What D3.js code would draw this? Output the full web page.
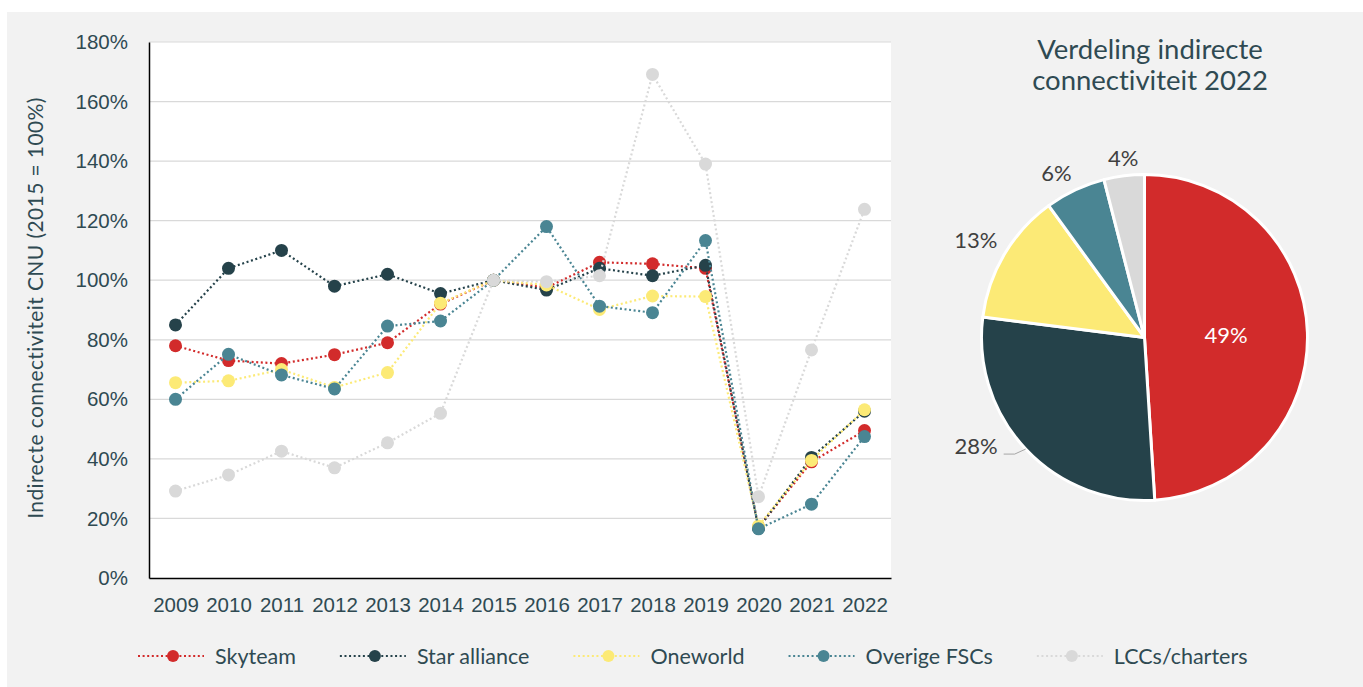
<!DOCTYPE html>
<html>
<head>
<meta charset="utf-8">
<script src="https://cdn.jsdelivr.net/npm/d3@7"></script>
<style>
  body { margin: 0; background: #fff; overflow: hidden; }
  svg { display: block; overflow: visible; font-family: Lato, "Open Sans", sans-serif; font-variant-ligatures: none; }
</style>
</head>
<body>
<div id="chart"></div>
<script>
const width = 1363;
const height = 687;
const margin = {top: 42, right: 472, bottom: 109, left: 149};
const innerWidth = width - margin.left - margin.right;
const innerHeight = height - margin.top - margin.bottom;

// Data
const years = [2009, 2010, 2011, 2012, 2013, 2014, 2015, 2016, 2017, 2018, 2019, 2020, 2021, 2022];
const seriesNames = ["Skyteam", "Star alliance", "Oneworld", "Overige FSCs", "LCCs/charters"];
const colors = ["#d22b2b", "#25424a", "#fcea76", "#4a8593", "#d9d9d9"];
const skyteam = [78, 73, 72, 75, 79, 92, 100, 97.5, 106, 105.5, 104, 17, 39, 49.5];
const starAlliance = [85, 104, 110, 98, 102, 95.5, 100, 96.7, 104, 101.5, 105, 16.7, 40.5, 56];
const oneworld = [65.6, 66.2, 70, 64, 69, 92.3, 100, 98.4, 90.2, 94.7, 94.5, 17.5, 39.5, 56.5];
const overigeFSCs = [60, 75.1, 68.2, 63.5, 84.6, 86.3, 100, 118, 91.3, 89.1, 113.3, 16.5, 24.8, 47.5];
const lccs = [29.2, 34.6, 42.6, 37, 45.4, 55.3, 100, 99.5, 101.5, 169.1, 139, 27.3, 76.6, 123.8];
const seriesValues = [skyteam, starAlliance, oneworld, overigeFSCs, lccs];
const yTicks = [0, 20, 40, 60, 80, 100, 120, 140, 160, 180];

const pieLabels = ["Skyteam", "Star alliance", "Oneworld", "Overige FSCs", "LCCs/charters"];
const pieValues = [49, 28, 13, 6, 4];

const textColor = "#2f4a52";
const labelColor = "#404040";

const svg = d3.select("#chart")
  .append("svg")
    .attr("width", width)
    .attr("height", height);

// Background
svg.append("rect")
  .attr("x", 7).attr("y", 12)
  .attr("width", width - 7).attr("height", height - 12)
  .attr("fill", "#f2f2f2");

const innerChart = svg.append("g")
  .attr("transform", `translate(${margin.left}, ${margin.top})`);

innerChart.append("rect")
  .attr("width", innerWidth)
  .attr("height", innerHeight)
  .attr("fill", "#ffffff");

// Scales
const xScale = d3.scalePoint()
  .domain(years)
  .range([0, innerWidth])
  .padding(0.5);

const yScale = d3.scaleLinear()
  .domain([0, 180])
  .range([innerHeight, 0]);

// Gridlines
innerChart.append("g")
  .selectAll("line")
  .data(yTicks.filter(d => d > 0))
  .join("line")
    .attr("x1", 0)
    .attr("x2", innerWidth)
    .attr("y1", d => yScale(d))
    .attr("y2", d => yScale(d))
    .attr("stroke", "#d9d9d9")
    .attr("stroke-width", 1.2);

// Axes
const leftAxis = d3.axisLeft(yScale)
  .tickValues(yTicks)
  .tickFormat(d => d + "%")
  .tickSize(0)
  .tickPadding(21);
const yAxis = innerChart.append("g")
  .attr("class", "axis-y")
  .call(leftAxis);
yAxis.select(".domain").attr("stroke", "#000").attr("stroke-width", 1.5);
yAxis.selectAll("text")
  .attr("fill", textColor)
  .style("font-size", "20.5px");

const bottomAxis = d3.axisBottom(xScale)
  .tickSize(0)
  .tickPadding(19);
const xAxis = innerChart.append("g")
  .attr("class", "axis-x")
  .attr("transform", `translate(0, ${innerHeight})`)
  .call(bottomAxis);
xAxis.select(".domain").attr("stroke", "#000").attr("stroke-width", 1.5);
xAxis.selectAll("text")
  .attr("fill", textColor)
  .style("font-size", "20.5px");

// Y axis title
svg.append("text")
  .attr("transform", `translate(43, ${margin.top + innerHeight / 2 - 2}) rotate(-90)`)
  .attr("text-anchor", "middle")
  .attr("fill", textColor)
  .style("font-size", "21px")
  .style("letter-spacing", "0.4px")
  .text("Indirecte connectiviteit CNU (2015 = 100%)");

// Lines
const lineGenerator = d3.line()
  .x((d, i) => xScale(years[i]))
  .y(d => yScale(d));

const seriesGroups = innerChart.append("g")
  .selectAll(".series")
  .data(seriesValues)
  .join("g")
    .attr("class", "series");

seriesGroups.append("path")
  .attr("d", d => lineGenerator(d))
  .attr("fill", "none")
  .attr("stroke", (d, i) => colors[i])
  .attr("stroke-width", 2.2)
  .attr("stroke-dasharray", "2,2.6");

seriesGroups.each(function(values, s) {
  d3.select(this).selectAll("circle")
    .data(values)
    .join("circle")
      .attr("cx", (d, i) => xScale(years[i]))
      .attr("cy", d => yScale(d))
      .attr("r", 6.5)
      .attr("fill", colors[s]);
});

// Legend
const legend = svg.append("g")
  .attr("transform", "translate(138, 656)");
let legendX = 0;
seriesNames.forEach((name, i) => {
  const item = legend.append("g").attr("transform", `translate(${legendX}, 0)`);
  item.append("line")
    .attr("x1", 0).attr("x2", 66)
    .attr("stroke", colors[i])
    .attr("stroke-width", 2.2)
    .attr("stroke-dasharray", "2,2.6");
  item.append("circle")
    .attr("cx", 35).attr("r", 6)
    .attr("fill", colors[i]);
  const label = item.append("text")
    .attr("x", 77)
    .attr("dy", "0.35em")
    .attr("fill", textColor)
    .style("font-size", "21.5px")
    .text(name);
  legendX += 77 + label.node().getComputedTextLength() + 44;
});

// Pie chart
const pieCx = 1144.5;
const pieCy = 337.5;
const radius = 163;

svg.append("text")
  .attr("text-anchor", "middle")
  .attr("fill", textColor)
  .style("font-size", "27.5px")
  .selectAll("tspan")
  .data(["Verdeling indirecte", "connectiviteit 2022"])
  .join("tspan")
    .attr("x", 1150)
    .attr("y", (d, i) => 59 + i * 31)
    .text(d => d);

const pie = d3.pie().sort(null).value(d => d);
const arcs = pie(pieValues);
const arcGenerator = d3.arc().innerRadius(0).outerRadius(radius);

const pieGroup = svg.append("g")
  .attr("transform", `translate(${pieCx}, ${pieCy})`);

pieGroup.selectAll("path")
  .data(arcs)
  .join("path")
    .attr("d", arcGenerator)
    .attr("fill", (d, i) => colors[i])
    .attr("stroke", "#ffffff")
    .attr("stroke-width", 3)
    .attr("stroke-linejoin", "round");

// Pie labels
arcs.forEach((a, i) => {
  const mid = (a.startAngle + a.endAngle) / 2;
  const dx = Math.sin(mid);
  const dy = -Math.cos(mid);
  const text = d3.format(".0f")(pieValues[i]) + "%";
  if (i === 0) {
    const c = arcGenerator.centroid(a);
    pieGroup.append("text")
      .attr("x", c[0]).attr("y", c[1])
      .attr("dy", "0.35em")
      .attr("text-anchor", "middle")
      .attr("fill", "#ffffff")
      .style("font-size", "22px")
      .text(text);
  } else if (i === 1) {
    // label with leader line
    const ex = radius * dx, ey = radius * dy;
    pieGroup.append("polyline")
      .attr("points", `${ex},${ey} ${ex - 11},${ey + 5} ${ex - 22},${ey + 5}`)
      .attr("fill", "none")
      .attr("stroke", "#a6a6a6")
      .attr("stroke-width", 1);
    pieGroup.append("text")
      .attr("x", ex - 28).attr("y", ey + 5)
      .attr("text-anchor", "end")
      .attr("fill", labelColor)
      .style("font-size", "22px")
      .text(text);
  } else {
    const lr = radius + 8;
    pieGroup.append("text")
      .attr("x", lr * dx).attr("y", lr * dy)
      .attr("dy", dy < -0.3 ? "-0.1em" : "0.35em")
      .attr("text-anchor", dx < -0.3 ? "end" : (dx > 0.3 ? "start" : "middle"))
      .attr("fill", labelColor)
      .style("font-size", "22px")
      .text(text);
  }
});
</script>
</body>
</html>
